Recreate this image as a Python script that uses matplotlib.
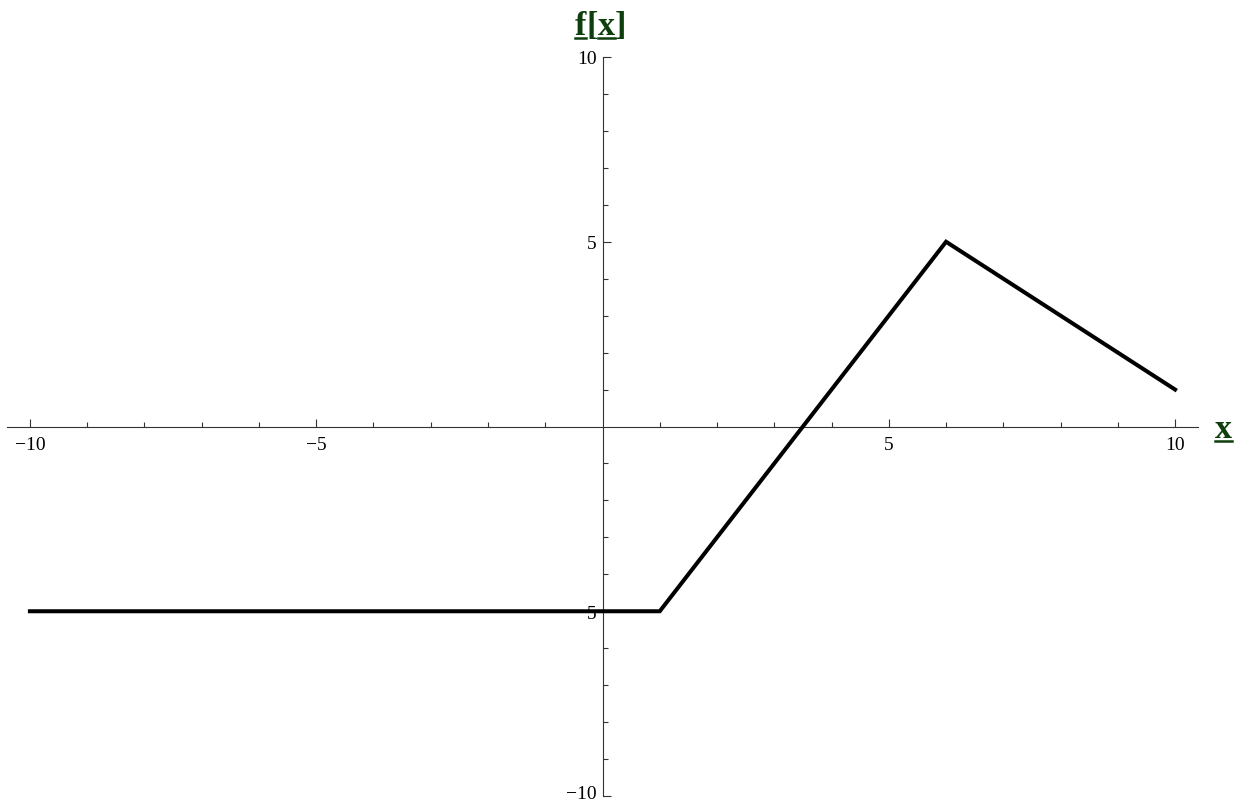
import matplotlib
matplotlib.use("Agg")
import matplotlib.pyplot as plt
import matplotlib.transforms as mtransforms
from matplotlib.lines import Line2D

# piecewise-linear f[x]
x_knots = [-10, 1, 6, 10]
y_knots = [-5, -5, 5, 1]

x_major = [-10, -5, 5, 10]
y_major = [-10, -5, 5, 10]
x_minor = [v for v in range(-10, 11) if v not in (-10, -5, 0, 5, 10)]
y_minor = [v for v in range(-10, 11) if v not in (-10, -5, 0, 5, 10)]

LABEL_COLOR = "#0d3f0d"
SERIF = "Liberation Serif"

W, H = 1245, 803
fig = plt.figure(figsize=(W / 100, H / 100), dpi=100)
ax = fig.add_axes([7 / W, (H - 797) / H, (1198 - 7) / W, (797 - 58) / H])
ax.set_xlim(-10.4, 10.4)
ax.set_ylim(-10, 10)

ax.plot(x_knots, y_knots, color="black", linewidth=2.9, solid_joinstyle="miter", zorder=3)

for side in ("top", "right"):
    ax.spines[side].set_visible(False)
ax.spines["left"].set_position(("data", 0))
ax.spines["bottom"].set_position(("data", 0))
for side in ("left", "bottom"):
    ax.spines[side].set_linewidth(0.8)
    ax.spines[side].set_color("#333333")


def minus(v):
    return str(v).replace("-", "\u2212")


ax.set_xticks(x_major)
ax.set_xticklabels([minus(v) for v in x_major])
ax.set_xticks(x_minor, minor=True)
ax.set_yticks(y_major)
ax.set_yticklabels([minus(v) for v in y_major])
ax.set_yticks(y_minor, minor=True)
ax.tick_params(which="both", direction="in", color="#333333", width=0.8, labelsize=14)
ax.tick_params(which="major", length=6)
ax.tick_params(which="minor", length=3.5)
ax.tick_params(axis="x", pad=7)
ax.tick_params(axis="y", pad=4)
for lab in ax.get_xticklabels() + ax.get_yticklabels():
    lab.set_fontfamily(SERIF)
ax.patch.set_visible(False)

# keep the bottom "-10" inside the canvas
bottom_lab = ax.get_yticklabels()[0]
bottom_lab.set_transform(bottom_lab.get_transform()
                         + mtransforms.ScaledTranslation(0, 4 / 100, fig.dpi_scale_trans))


def underlined_text(x0, y0, parts, size):
    """Draw text pieces left to right in pixel coords, underlining flagged ones."""
    fig.canvas.draw()
    renderer = fig.canvas.get_renderer()
    x = x0
    for s, under in parts:
        t = fig.text(x / W, 1 - y0 / H, s, fontsize=size, family=SERIF, weight="bold",
                     color=LABEL_COLOR, va="baseline", ha="left")
        bb = t.get_window_extent(renderer)
        if under:
            uy = 1 - (y0 + 3.5) / H
            fig.add_artist(Line2D([bb.x0 / W, bb.x1 / W], [uy, uy],
                                  transform=fig.transFigure, color=LABEL_COLOR,
                                  linewidth=1.8))
        x = x + bb.width


underlined_text(575, 35, [("f", True), ("[", False), ("x", True), ("]", False)], 24.5)
underlined_text(1215, 438, [("x", True)], 24.5)

fig.savefig("out.png", dpi=100)
